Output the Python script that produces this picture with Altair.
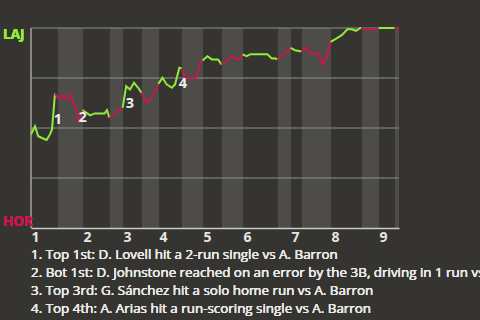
import bisect
import altair as alt
import pandas as pd

# ---- data (x in plate-appearance units, p = LAJ win probability) ----
win_x = [0, 1, 1.8, 2.75, 3.9, 4.75, 5.25, 6, 6.9, 7.8, 8.7, 9.7, 10.5, 11.4, 11.9,
         12.4, 12.9, 13.6, 14.8, 15.9, 18.4, 19, 19.6, 21.1, 22.6, 22.9, 23.8, 24.75,
         25.75, 26.8, 27.6, 28.9, 30.2, 31.8, 32.9, 33.9, 35.2, 36, 37.1, 37.7, 38.5,
         41.25, 42.25, 42.9, 44.1, 45.2, 46.75, 47.6, 48.9, 50.2, 51.25, 52.25, 52.9,
         53.9, 54.9, 59.1, 60.2, 61, 61.6, 63.1, 64.9, 66, 67.25, 67.6, 68.9, 69.75,
         71.8, 72.9, 73.9, 74.9, 76.4, 77.7, 79.1, 80.2, 81.25, 82.25, 82.6, 83.1, 86,
         86.9, 90.9, 92]
win_p = [0.468, 0.509, 0.459, 0.45, 0.44, 0.468, 0.493, 0.673, 0.645, 0.663, 0.643,
         0.668, 0.634, 0.583, 0.539, 0.56, 0.59, 0.579, 0.563, 0.573, 0.573, 0.589,
         0.551, 0.576, 0.596, 0.601, 0.709, 0.693, 0.726, 0.701, 0.676, 0.626, 0.651,
         0.721, 0.751, 0.718, 0.701, 0.718, 0.801, 0.798, 0.751, 0.751, 0.826, 0.838,
         0.859, 0.843, 0.843, 0.818, 0.834, 0.863, 0.843, 0.846, 0.868, 0.859, 0.869,
         0.869, 0.848, 0.849, 0.843, 0.868, 0.901, 0.889, 0.884, 0.884, 0.903, 0.873,
         0.873, 0.819, 0.856, 0.931, 0.948, 0.964, 0.994, 0.994, 0.986, 0.999, 1.0,
         0.995, 0.995, 1.0, 1.0, 1.0]

# bottom halves of innings (shaded bands)
band_start = [6.75, 19.75, 27.75, 37.75, 47.75, 61.75, 67.75, 82.75, 91]
band_end = [13, 23, 32, 43, 53, 65, 75, 87, 92]

inning_starts = [0, 13, 23, 32, 43, 53, 65, 75, 87]
inning_labels = ["1", "2", "3", "4", "5", "6", "7", "8", "9"]

event_labels = ["1", "2", "3", "4"]
event_x = [6.75, 12.9, 24.75, 38]
event_p = [0.5425, 0.5525, 0.6225, 0.7225]

notes = [
    "1. Top 1st: D. Lovell hit a 2-run single vs A. Barron",
    "2. Bot 1st: D. Johnstone reached on an error by the 3B, driving in 1 run vs A. Barron",
    "3. Top 3rd: G. Sánchez hit a solo home run vs A. Barron",
    "4. Top 4th: A. Arias hit a run-scoring single vs A. Barron",
]

grid_p = [0.25, 0.5, 0.75, 1.0]

GREEN = "#92ea3a"
RED = "#c8174e"
BG = "#353430"
BAND = "#4d4c49"
FONT = "Open Sans"

# ---- build line segments coloured by half inning ----
bounds = sorted(band_start + band_end[:-1])
half = [bisect.bisect_right(bounds, x) for x in win_x]
rows = []
for h in sorted(set(half)):
    idx = [i for i, v in enumerate(half) if v == h]
    if idx[0] > 0:
        idx = [idx[0] - 1] + idx
    for k, i in enumerate(idx):
        rows.append(dict(x=win_x[i], p=win_p[i], seg=h,
                         side="Top" if h % 2 == 0 else "Bot", o=k))
line_df = pd.DataFrame(rows)
band_df = pd.DataFrame(dict(s=band_start, e=band_end))
grid_df = pd.DataFrame(dict(g=grid_p))
ev_df = pd.DataFrame(dict(t=event_labels, x=event_x, p=event_p))

xscale = alt.Scale(domain=[0, 92], nice=False, zero=False)
yscale = alt.Scale(domain=[0, 1], nice=False, zero=False)
label_expr = "[" + ",".join("'%s'" % l for l in inning_labels) + "][indexof([" + \
    ",".join(str(v) for v in inning_starts) + "], datum.value)]"
xax = alt.Axis(values=inning_starts, labelExpr=label_expr, labelAlign="left",
               labelFont=FONT, labelFontSize=14, labelFontWeight="bold",
               labelColor="#e6e6e6", ticks=False, domainColor="#c8c8c8",
               domainWidth=1.5, grid=False, title=None, labelPadding=2,
               labelBaseline="top", labelFlush=False, labelOverlap=False, zindex=1)

bands = alt.Chart(band_df).mark_rect(color=BAND).encode(
    x=alt.X("s:Q", scale=xscale, axis=xax), x2="e:Q",
    y=alt.value(0), y2=alt.value(200))

grid = alt.Chart(grid_df).mark_rule(color="#8e8d89", strokeWidth=1).encode(
    y=alt.Y("g:Q", scale=yscale, axis=None))

left = alt.Chart(grid_df).mark_rule(color="#8e8d89", strokeWidth=1).encode(
    x=alt.value(0), y=alt.value(0), y2=alt.value(200))

line = alt.Chart(line_df).mark_line(strokeWidth=2).encode(
    x=alt.X("x:Q", scale=xscale, axis=xax),
    y=alt.Y("p:Q", scale=yscale, axis=None),
    color=alt.Color("side:N", scale=alt.Scale(domain=["Top", "Bot"], range=[GREEN, RED]),
                    legend=None),
    detail="seg:N", order="o:Q")

ev = alt.Chart(ev_df).mark_text(font=FONT, fontSize=14.5, fontWeight="bold",
                                color="#eeeeee", align="center", baseline="middle").encode(
    x=alt.X("x:Q", scale=xscale, axis=xax),
    y=alt.Y("p:Q", scale=yscale, axis=None), text="t:N")

laj = alt.Chart(grid_df).mark_text(font=FONT, fontSize=13.5, fontWeight="bold", color=GREEN,
                                   align="left", baseline="top", text="LAJ").encode(
    x=alt.value(-28), y=alt.value(0))
hor = alt.Chart(grid_df).mark_text(font=FONT, fontSize=13.5, fontWeight="bold", color=RED,
                                   align="left", baseline="alphabetic", text="HOR").encode(
    x=alt.value(-28), y=alt.value(198))

note = alt.Chart(grid_df).mark_text(font=FONT, fontSize=13.4, lineHeight=18,
                                    color="#e8e8e8", align="left",
                                    baseline="alphabetic").encode(
    x=alt.value(0), y=alt.value(230.5), text=alt.value(notes))

chart = alt.layer(bands, grid, left, line, ev, laj, hor, note).properties(
    width=368, height=200,
    autosize=alt.AutoSizeParams(type="none"),
    padding={"left": 31, "top": 28, "right": 81, "bottom": 92},
    background=BG,
).configure_view(strokeWidth=0)

chart.save("out.html", embed_options={"renderer": "svg", "actions": False})
